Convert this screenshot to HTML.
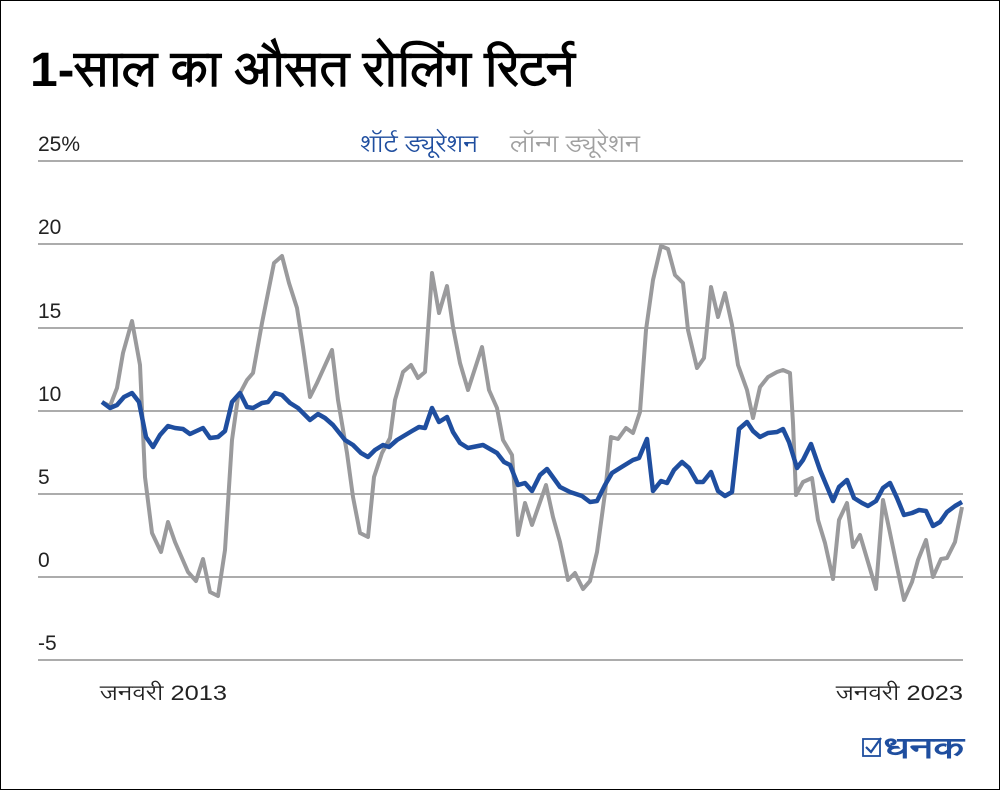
<!DOCTYPE html>
<html><head><meta charset="utf-8"><style>
body{margin:0;background:#fff}
svg text{font-family:"Liberation Sans","Noto Sans CJK SC","Lohit Devanagari",sans-serif}
</style></head><body>
<svg width="1000" height="790" xmlns="http://www.w3.org/2000/svg">
<rect x="0.5" y="0.5" width="999" height="789" fill="#fff" stroke="#000" stroke-width="1"/>
<text x="30" y="86" font-size="48" font-weight="bold" fill="#000" textLength="545" lengthAdjust="spacingAndGlyphs">1-साल का औसत रोलिंग रिटर्न</text>
<g stroke="#acacac" stroke-width="2">
<line x1="38" y1="161" x2="963" y2="161"/><line x1="38" y1="244" x2="963" y2="244"/>
<line x1="38" y1="328" x2="963" y2="328"/><line x1="38" y1="411" x2="963" y2="411"/>
<line x1="38" y1="494" x2="963" y2="494"/><line x1="38" y1="577" x2="963" y2="577"/>
<line x1="38" y1="660" x2="963" y2="660"/></g>
<g font-size="21" fill="#222">
<text x="38" y="151">25%</text><text x="38" y="234">20</text><text x="38" y="318">15</text>
<text x="38" y="401">10</text><text x="38" y="484">5</text><text x="38" y="567">0</text>
<text x="38" y="650">-5</text>
<text x="100" y="700" textLength="127" lengthAdjust="spacingAndGlyphs">जनवरी 2013</text><text x="836" y="700" textLength="127" lengthAdjust="spacingAndGlyphs">जनवरी 2023</text></g>
<text x="360" y="152" font-size="24" fill="#1f4e9f" textLength="118" lengthAdjust="spacingAndGlyphs">शॉर्ट ड्यूरेशन</text>
<text x="510" y="152" font-size="24" fill="#a0a0a0" textLength="130" lengthAdjust="spacingAndGlyphs">लॉन्ग ड्यूरेशन</text>
<polyline fill="none" stroke="#9a9a9c" stroke-width="4" stroke-linejoin="round" points="102,402 110,406 117,388 123,353 132,321 140,365 145,477 152,533 161,552 168,522 175,542 188,572 196,581 203,559 210,592 218,596 225,550 232,440 238,397 247,380 253,373 262,323 274,263 282,256 289,283 297,308 303,347 310,397 317,383 332,350 338,400 347,453 353,497 360,533 368,537 374,477 382,453 390,438 395,400 403,372 411,365 418,378 425,372 432,273 439,313 447,286 453,327 460,363 468,390 482,347 489,390 497,408 503,440 512,455 518,535 525,503 532,525 546,485 553,517 560,542 568,580 575,573 583,589 590,581 597,552 605,493 611,437 618,439 626,428 633,433 640,412 646,330 653,280 661,246 668,249 675,275 683,283 688,330 697,368 704,358 711,287 718,317 725,293 732,325 738,365 747,390 753,418 760,387 768,377 777,372 783,370 790,373 793,423 796,495 803,482 812,478 818,520 825,543 833,579 839,520 847,503 853,547 860,535 868,562 876,589 883,500 890,533 897,567 904,600 912,582 918,560 926,540 933,577 941,559 947,558 955,542 962,507"/>
<polyline fill="none" stroke="#1f4e9f" stroke-width="4.5" stroke-linejoin="round" points="102,402 110,408 117,405 124,397 132,393 139,402 146,437 153,447 160,435 168,426 175,428 183,429 190,434 203,428 210,438 218,437 225,431 232,402 240,393 247,407 253,408 262,403 268,402 275,393 282,395 290,403 298,408 310,420 318,414 325,418 333,425 345,440 353,445 361,453 368,457 375,450 383,445 389,447 397,440 412,431 419,427 425,428 432,408 439,422 447,417 453,432 460,443 468,448 483,445 497,453 504,462 510,465 518,485 525,483 532,491 540,475 547,469 560,487 570,492 582,496 590,502 597,501 605,485 612,473 620,468 633,460 639,458 647,439 653,491 661,481 667,483 674,470 682,462 689,468 697,482 703,482 711,472 718,491 725,496 732,492 739,429 747,422 753,431 760,437 768,433 777,432 783,429 789,442 797,468 803,460 811,444 820,470 833,501 839,487 847,480 854,498 862,503 868,506 876,501 883,488 890,483 897,498 904,515 912,513 919,510 926,511 933,526 940,522 947,512 955,506 962,502"/>
<rect x="863" y="739" width="17" height="17" fill="none" stroke="#1f4e9f" stroke-width="1.8"/>
<polyline points="866,747 871,752 881,738" fill="none" stroke="#1f4e9f" stroke-width="2.2"/>
<text x="884" y="758" font-size="28" font-weight="bold" fill="#1f4e9f" textLength="80" lengthAdjust="spacingAndGlyphs">धनक</text>
</svg>
</body></html>
